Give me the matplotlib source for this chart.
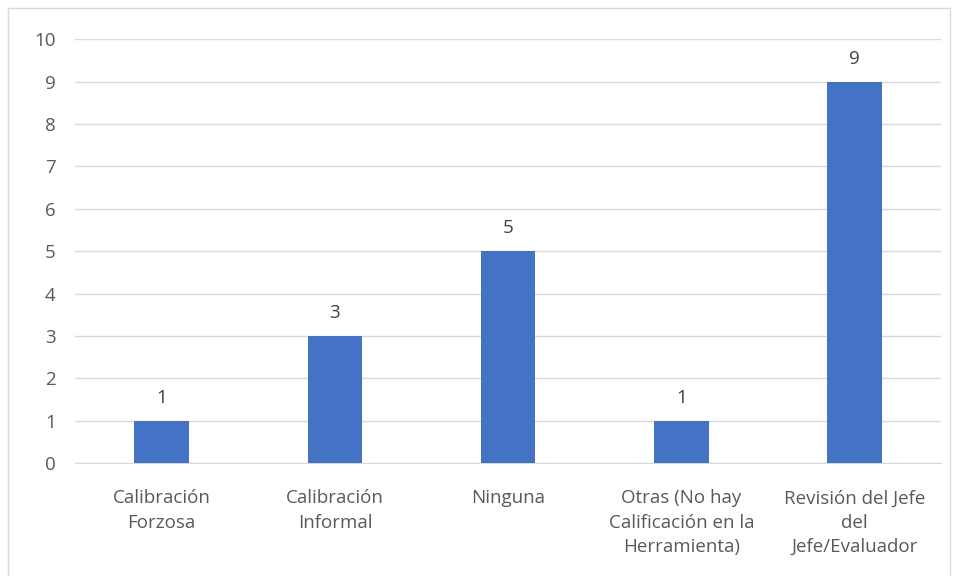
import matplotlib.pyplot as plt
from matplotlib.patches import Rectangle

categories = ["Calibración\nForzosa", "Calibración\nInformal", "Ninguna",
              "Otras (No hay\nCalificación en la\nHerramienta)",
              "Revisión del Jefe\ndel\nJefe/Evaluador"]
values = [1, 3, 5, 1, 9]

plt.rcParams['font.family'] = ['Open Sans', 'DejaVu Sans']
text_color = "#595959"

fig = plt.figure(figsize=(9.56, 5.76), dpi=100)
ax = fig.add_axes([0.0785, 0.196, 0.906, 0.736])

x = list(range(len(categories)))
bars = ax.bar(x, values, width=0.315, color="#4472C4", zorder=3)
for b, v in zip(bars, values):
    ax.text(b.get_x() + b.get_width() / 2, v + 0.33, str(v), ha="center", va="bottom",
            fontsize=13.5, color="#404040")

ax.set_ylim(0, 10)
ax.set_xlim(-0.5, len(categories) - 0.5)
ax.set_yticks(range(0, 11))
ax.yaxis.grid(True, color="#D9D9D9", linewidth=1, zorder=0)
ax.set_xticks(x)
ax.set_xticklabels(categories, fontsize=13.5, color=text_color, linespacing=1.45)
ax.tick_params(axis="y", labelsize=13.5, labelcolor=text_color, length=0, pad=14)
ax.tick_params(axis="x", length=0, pad=19)
for s in ["top", "right", "left"]:
    ax.spines[s].set_visible(False)
ax.spines["bottom"].set_color("#D9D9D9")

fig.patches.append(Rectangle((8 / 956, -0.01), 942 / 956, 1 - 8 / 576 + 0.01,
                             transform=fig.transFigure, fill=False,
                             edgecolor="#D9D9D9", linewidth=1))

fig.savefig("out.png", dpi=100)
